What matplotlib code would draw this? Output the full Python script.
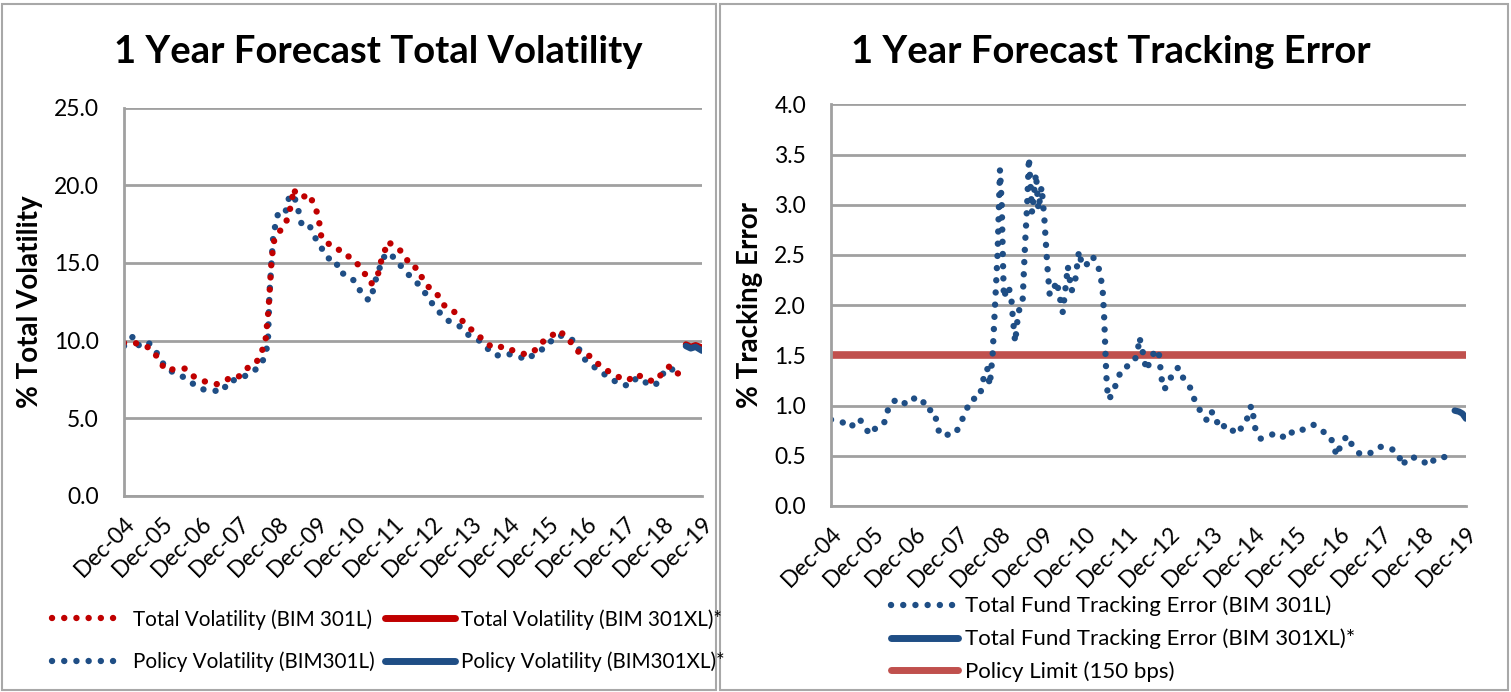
import matplotlib
matplotlib.use("Agg")
import matplotlib.pyplot as plt
from matplotlib.patches import Rectangle
from matplotlib.lines import Line2D

plt.rcParams["font.family"] = ["Lato", "DejaVu Sans"]

# ── 공통 x축: Dec-04 기준 경과 개월 수 ──
year_labels = ["Dec-04", "Dec-05", "Dec-06", "Dec-07", "Dec-08", "Dec-09", "Dec-10", "Dec-11",
               "Dec-12", "Dec-13", "Dec-14", "Dec-15", "Dec-16", "Dec-17", "Dec-18", "Dec-19"]

# ── 좌측: 1 Year Forecast Total Volatility ──
tv_l_month = [0, 2, 4.4, 7.2, 9, 11, 13, 16, 19, 21.8, 25, 28.9, 31.3, 34, 36, 38.7, 41.2, 42.6,
              44, 45, 46, 46.8, 47.5, 49, 50.3, 51.4, 52.3, 52.7, 53.8, 55.3, 58, 58.9, 60.4, 61,
              61.5, 63, 66, 68.2, 70.7, 73.2, 75.4, 77, 79, 79.7, 81, 82, 85, 87.5, 89, 91.7, 93,
              95.3, 98, 100, 102.8, 105, 107.7, 110, 112.6, 115, 117.4, 119, 121.5, 125, 127.6,
              129.8, 132.5, 134.8, 137.5, 139.8, 142, 145.2, 147.8, 151, 154, 157, 159.6, 162.9,
              165.5, 167.6, 170, 173]
tv_l = [9.85, 9.9, 9.8, 9.6, 9.37, 8.71, 8.09, 8.17, 8.2, 7.68, 7.38, 7.2, 7.38, 7.74, 7.7, 8.28,
        8.58, 9.17, 9.85, 12.0, 15.3, 16.5, 16.8, 17.16, 17.5, 18.23, 18.94, 19.8, 19.37, 19.22,
        19.4, 18.77, 18.13, 17.33, 16.6, 16.28, 16.07, 15.53, 15.36, 14.82, 14.18, 13.66, 14.16,
        14.9, 15.6, 16.37, 16.0, 15.5, 14.8, 14.63, 13.94, 13.34, 12.87, 12.18, 11.86, 11.35,
        10.79, 10.4, 9.89, 9.52, 9.59, 9.61, 9.31, 9.12, 9.29, 9.87, 10.12, 10.66, 10.34, 9.72,
        9.16, 9.0, 8.47, 8.0, 7.66, 7.44, 7.85, 7.46, 7.38, 7.9, 8.37, 7.79]

pv_l_month = [0, 1.5, 3, 4.7, 7.4, 9, 11, 12.8, 15.7, 18, 21, 24, 27.7, 30.8, 32.4, 35.4, 37.5,
              40.5, 42.6, 44, 44.8, 45.3, 46, 46.5, 47.3, 48, 50.3, 50.8, 52.4, 54, 54.6, 55.6, 58,
              59.6, 61.5, 63.5, 66, 66.9, 69.3, 72, 73.8, 76.3, 77.3, 77.9, 79.3, 80, 82, 84.4,
              86.6, 89, 91.7, 94, 96, 98.5, 101, 104.5, 107, 110.5, 113, 116, 118.7, 122, 125.7,
              127.9, 130.6, 132.8, 135.4, 138.8, 141.3, 142.5, 145.2, 148, 151.3, 154.3, 157.3,
              159.7, 162.8, 165.4, 167.3, 169.6, 173]
pv_l = [9.65, 10.0, 10.3, 9.67, 9.9, 9.6, 8.94, 8.3, 7.9, 7.72, 7.29, 6.88, 6.78, 6.74, 7.38, 7.5,
        7.7, 8.06, 8.43, 9.07, 9.85, 13.0, 15.25, 16.8, 17.57, 18.2, 18.2, 18.98, 19.43, 18.8,
        18.0, 17.3, 17.3, 16.6, 15.96, 15.3, 15.19, 14.4, 14.24, 13.8, 13.1, 12.57, 12.93, 13.7,
        14.33, 15.1, 15.66, 15.3, 14.7, 14.16, 13.62, 13.0, 12.38, 11.76, 11.28, 10.92, 10.4,
        10.02, 9.52, 9.03, 9.18, 9.03, 8.77, 9.18, 9.48, 9.93, 10.34, 10.19, 9.72, 8.96, 8.51,
        8.04, 7.61, 7.19, 7.1, 7.61, 7.27, 7.1, 7.74, 8.26, 7.9]

xl_month = [175, 176.5, 178, 180]
tv_xl = [9.75, 9.6, 9.7, 9.55]
pv_xl = [9.65, 9.5, 9.6, 9.35]

# ── 우측: 1 Year Forecast Tracking Error (10개씩 줄 맞춤) ──
te_l_month = [0, 3, 5.4, 8, 9.4, 11, 13, 15, 16.5, 18.8,
              21.5, 23.4, 25.9, 26.8, 29.2, 30.8, 33.3, 35.3, 36.8, 38.3,
              39.6, 42.1, 43.6, 44.3, 45, 45.8, 46.5, 47.2, 47.6, 47.9,
              48.4, 48.7, 49, 50, 51, 51.6, 52.2, 53.1, 54.3, 55,
              55.6, 56.1, 57, 58.1, 58.8, 59.7, 60.5, 61.3, 62, 63,
              64, 64.6, 65.7, 66.8, 67.1, 68.2, 69.2, 70.3, 71, 72,
              74.1, 75.8, 76.5, 77, 77.4, 77.9, 78.2, 78.7, 80, 81,
              82.5, 83.5, 86, 87, 87.4, 88, 89.4, 90.5, 92, 92.9,
              93.7, 94.4, 95.8, 96.8, 98.5, 99.9, 101.1, 102.2, 103, 104,
              105.2, 106.7, 107.9, 109.2, 110.8, 111.8, 114.1, 115.6, 116.8, 118.2,
              119.1, 119.8, 120.2, 121.7, 123.7, 126.2, 129.1, 131.3, 133.8, 136.7,
              139.1, 141.7, 142.4, 143.6, 144.4, 146.3, 147.8, 150.1, 153.1, 155.5,
              158.4, 160.9, 161.8, 163.9, 167.2, 169.3, 171.5, 174.7]
te_l = [0.86, 0.84, 0.78, 0.87, 0.80, 0.71, 0.79, 0.82, 1.0, 1.07,
        1.01, 1.07, 1.07, 0.96, 0.95, 0.71, 0.71, 0.72, 0.83, 0.95,
        1.06, 1.08, 1.33, 1.37, 1.20, 1.50, 2.0, 2.5, 3.0, 3.35,
        3.0, 2.5, 2.07, 2.19, 2.12, 1.85, 1.63, 1.93, 2.03, 2.6,
        3.0, 3.47, 2.92, 3.31, 2.95, 3.18, 2.85, 2.4, 2.10, 2.15,
        2.24, 2.12, 1.93, 2.27, 2.39, 2.14, 2.24, 2.54, 2.42, 2.38,
        2.49, 2.38, 2.27, 2.15, 1.91, 1.43, 1.19, 1.06, 1.13, 1.24,
        1.37, 1.38, 1.44, 1.55, 1.68, 1.60, 1.35, 1.45, 1.56, 1.53,
        1.27, 1.16, 1.22, 1.33, 1.38, 1.27, 1.21, 1.16, 1.06, 1.0,
        0.90, 0.85, 0.94, 0.83, 0.86, 0.75, 0.75, 0.72, 0.83, 0.88,
        1.0, 0.88, 0.78, 0.67, 0.69, 0.73, 0.67, 0.76, 0.76, 0.81,
        0.75, 0.69, 0.58, 0.50, 0.61, 0.70, 0.60, 0.51, 0.53, 0.59,
        0.58, 0.52, 0.40, 0.49, 0.47, 0.40, 0.48, 0.49]

te_xl_month = [176.8, 178, 179, 180]
te_xl = [0.95, 0.94, 0.92, 0.87]

policy_limit = 1.5

RED = "#C00000"
BLUE = "#1F4E85"
LIMIT_RED = "#C0504D"
GRID = "#A0A0A0"
DOT = (0, (0.01, 1.9))
LW = 4.6
W, H = 1511, 692

fig = plt.figure(figsize=(W / 100, H / 100), dpi=100)
fig.patch.set_facecolor("white")

# 패널 테두리
for x0, x1 in [(2, 716), (720, 1508)]:
    fig.patches.append(Rectangle((x0 / W, 2 / H), (x1 - x0) / W, 686 / H,
                                 transform=fig.transFigure, fill=False,
                                 edgecolor="#A8A8A8", linewidth=1.5))


def style_axes(ax, ymax, ystep):
    ax.set_xlim(0, 180)
    ax.set_ylim(0, ymax)
    ax.set_xticks(range(0, 181, 12))
    ax.set_xticklabels(year_labels, rotation=45, ha="right", rotation_mode="anchor",
                       fontsize=16.5)
    yt = [i * ystep for i in range(int(round(ymax / ystep)) + 1)]
    ax.set_yticks(yt)
    ax.set_yticklabels([f"{v:.1f}" for v in yt], fontsize=16.5)
    ax.xaxis.set_tick_params(length=0, pad=12)
    ax.yaxis.set_tick_params(length=0, pad=18)
    ax.grid(axis="y", color=GRID, linewidth=2)
    ax.set_axisbelow(True)
    ax.spines[["top", "right"]].set_visible(False)
    for s in ("left", "bottom"):
        ax.spines[s].set_color(GRID)
        ax.spines[s].set_linewidth(2)


h_dot = dict(linewidth=LW, linestyle=DOT, dash_capstyle="round")
h_solid = dict(linewidth=5, solid_capstyle="round")
leg_kw = dict(frameon=False, borderpad=0, borderaxespad=0, loc="center left")

# ── 좌측 차트 ──
ax1 = fig.add_axes([124 / W, 1 - 496 / H, 578 / W, 388.5 / H])
style_axes(ax1, 25, 5)
ax1.plot(pv_l_month, pv_l, color=BLUE, **h_dot)
ax1.plot(tv_l_month, tv_l, color=RED, **h_dot)
ax1.plot(xl_month, tv_xl, color=RED, linewidth=LW, solid_capstyle="round")
ax1.plot(xl_month, pv_xl, color=BLUE, linewidth=LW, solid_capstyle="round")
ax1.set_ylabel("% Total Volatility", fontsize=20, fontweight="bold", labelpad=8)
fig.text(378 / W, 1 - 52 / H, "1 Year Forecast Total Volatility", ha="center",
         va="center", fontsize=27.5, fontweight="bold")

fig.legend([Line2D([], [], color=RED, **h_dot), Line2D([], [], color=BLUE, **h_dot)],
           ["Total Volatility (BIM 301L)", "Policy Volatility (BIM301L)"],
           bbox_to_anchor=(52 / W, 1 - 640.5 / H), fontsize=14.9, handlelength=3.3,
           handletextpad=0.6, labelspacing=1.05, **leg_kw)
fig.legend([Line2D([], [], color=RED, **h_solid), Line2D([], [], color=BLUE, **h_solid)],
           ["Total Volatility (BIM 301XL)*", "Policy Volatility (BIM301XL)*"],
           bbox_to_anchor=(385 / W, 1 - 640.5 / H), fontsize=14.9, handlelength=3.4,
           handletextpad=0.25, labelspacing=1.05, **leg_kw)

# ── 우측 차트 ──
ax2 = fig.add_axes([831 / W, 1 - 506 / H, 635 / W, 401.7 / H])
style_axes(ax2, 4.0, 0.5)
ax2.axhline(policy_limit, color=LIMIT_RED, linewidth=5.5)
ax2.plot(te_l_month, te_l, color=BLUE, **h_dot)
ax2.plot(te_xl_month, te_xl, color=BLUE, linewidth=LW, solid_capstyle="round")
ax2.set_ylabel("% Tracking Error", fontsize=20, fontweight="bold", labelpad=8)
fig.text(1111 / W, 1 - 52 / H, "1 Year Forecast Tracking Error", ha="center",
         va="center", fontsize=27.5, fontweight="bold")

fig.legend([Line2D([], [], color=BLUE, **h_dot), Line2D([], [], color=BLUE, **h_solid),
            Line2D([], [], color=LIMIT_RED, **h_solid)],
           ["Total Fund Tracking Error (BIM 301L)", "Total Fund Tracking Error (BIM 301XL)*",
            "Policy Limit (150 bps)"],
           bbox_to_anchor=(891 / W, 1 - 639 / H), fontsize=16, handlelength=3.0,
           handletextpad=0.35, labelspacing=0.55, **leg_kw)

fig.savefig("out.png", dpi=100)
